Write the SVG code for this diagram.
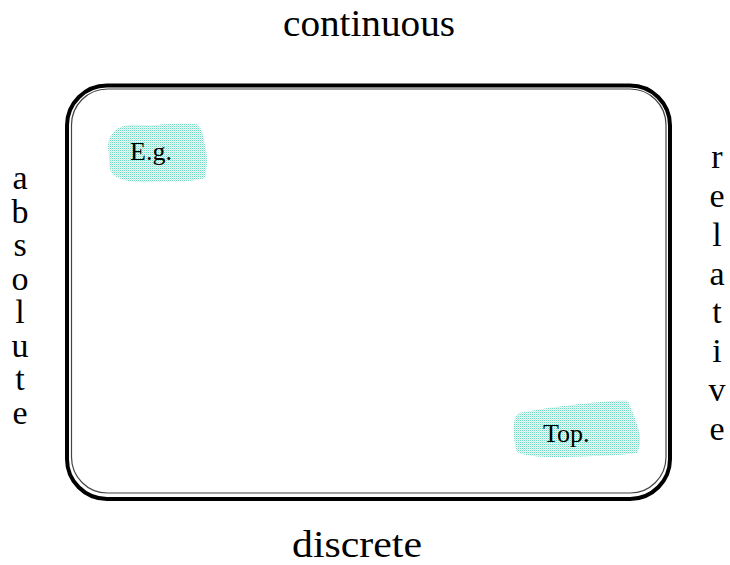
<svg xmlns="http://www.w3.org/2000/svg" width="730" height="565" viewBox="0 0 730 565">
  <style>
    text { font-family: "Liberation Serif", "DejaVu Serif", "Times New Roman", serif; fill: #000; }
    .axis { font-size: 37px; }
    .side { font-size: 34px; text-anchor: middle; }
    .tag { font-size: 26px; }
    .frame { fill: none; stroke: #000; stroke-width: 4; }
    .frame-inner { fill: none; stroke: #444; stroke-width: 1.2; }
    .blob { fill: url(#dots); }
  </style>
  <defs>
    <!-- stippled aqua fill for the two patches -->
    <pattern id="dots" width="2" height="2" patternUnits="userSpaceOnUse">
      <rect width="2" height="2" fill="#f0fbf8"/>
      <rect width="1" height="1" fill="#6ed8c0"/>
      <rect x="1" y="1" width="1" height="1" fill="#c4f0e6"/>
    </pattern>
  </defs>
  <rect width="730" height="565" fill="#fff"/>

  <!-- rounded frame: heavy outer line with a thin inner line -->
  <g id="frame">
    <rect class="frame" x="67" y="85.5" width="603" height="413.5" rx="40" ry="40"/>
    <rect class="frame-inner" x="71.5" y="89" width="594.5" height="404" rx="36" ry="36"/>
  </g>

  <!-- axis labels -->
  <g id="top-label">
    <text class="axis" x="283" y="36" textLength="172" lengthAdjust="spacingAndGlyphs">continuous</text>
  </g>
  <g id="bottom-label">
    <text class="axis" x="292" y="557" textLength="130" lengthAdjust="spacingAndGlyphs">discrete</text>
  </g>
  <g id="left-label">
    <text class="side" x="20" y="189">a</text>
    <text class="side" x="20" y="222.5">b</text>
    <text class="side" x="20" y="256">s</text>
    <text class="side" x="20" y="289.5">o</text>
    <text class="side" x="20" y="323">l</text>
    <text class="side" x="20" y="356.5">u</text>
    <text class="side" x="20" y="390">t</text>
    <text class="side" x="20" y="423.5">e</text>
  </g>
  <g id="right-label">
    <text class="side" x="717" y="168">r</text>
    <text class="side" x="717" y="207">e</text>
    <text class="side" x="717" y="246">l</text>
    <text class="side" x="717" y="285">a</text>
    <text class="side" x="717" y="323">t</text>
    <text class="side" x="717" y="362">i</text>
    <text class="side" x="717" y="401">v</text>
    <text class="side" x="717" y="440">e</text>
  </g>

  <!-- patch in the upper-left corner -->
  <g id="eg">
    <path class="blob" d="M112,134 C118,126 128,124 140,125 C158,126 176,122 196,124 C203,128 203,136 205,146 C208,156 207,168 205,178 C190,183 170,181 150,182 C134,183 118,181 111,172 C108,164 110,156 108,148 C108,142 109,138 112,134 Z"/>
    <text class="tag" x="130" y="160">E.g.</text>
  </g>

  <!-- patch in the lower-right corner -->
  <g id="top">
    <path class="blob" d="M519,413 C540,409 560,406 580,404 C600,402 618,400 628,401 C632,410 636,420 638,428 C641,436 641,446 637,453 C615,456 590,456 565,457 C545,457 528,457 517,452 C514,443 513,432 514,422 C515,418 516,415 519,413 Z"/>
    <text class="tag" x="543" y="442">Top.</text>
  </g>
</svg>
